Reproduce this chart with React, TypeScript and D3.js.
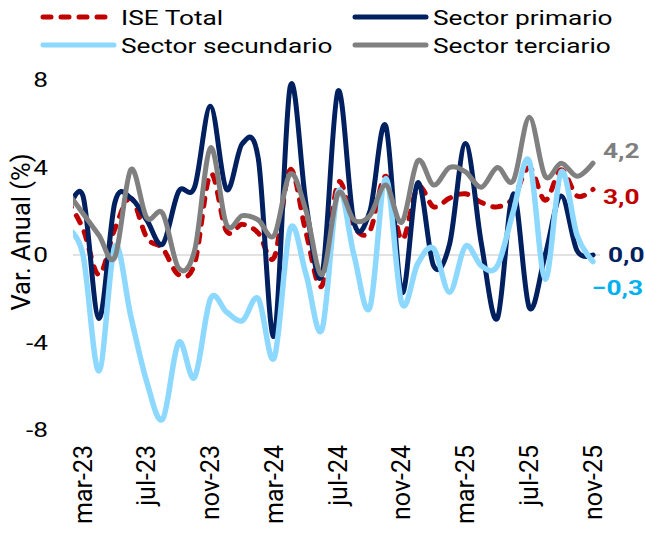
import React from "react";
import * as d3 from "d3";

const months = ["feb-23","mar-23","abr-23","may-23","jun-23","jul-23","ago-23","sep-23","oct-23","nov-23","dic-23","ene-24","feb-24","mar-24","abr-24","may-24","jun-24","jul-24","ago-24","sep-24","oct-24","nov-24","dic-24","ene-25","feb-25","mar-25","abr-25","may-25","jun-25","jul-25","ago-25","sep-25","oct-25","nov-25"];
const tickLabels = ["mar-23","jul-23","nov-23","mar-24","jul-24","nov-24","mar-25","jul-25","nov-25"];
const yTicks = [-8, -4, 0, 4, 8];

const iseTotal = [2.5, 1.2, -0.9, 1.2, 2.6, 0.8, 0.3, -0.9, -0.4, 3.7, 1.1, 1.4, 1.0, -0.1, 3.9, 1.0, -1.4, 3.3, 1.3, 1.1, 3.6, 0.7, 3.1, 2.2, 2.6, 2.8, 2.4, 2.2, 2.6, 4.0, 2.5, 3.9, 2.7, 3.0];
const primario = [1.8, 2.7, -2.9, 2.4, 2.6, 1.6, 0.5, 2.9, 3.1, 6.8, 3.0, 5.1, 4.4, -3.7, 7.7, 2.3, -0.9, 7.5, 1.5, 2.0, 5.9, -1.7, 3.3, -0.5, 0.5, 5.1, 0.5, -2.9, 2.8, -2.4, 0.0, 2.7, 0.2, 0.0];
const secundario = [1.2, 0.0, -5.3, 0.4, -2.8, -5.8, -7.5, -4.0, -5.6, -2.0, -2.6, -3.0, -2.0, -4.7, 1.2, -0.9, -3.4, 2.9, 0.0, -2.4, 3.5, -2.2, -0.4, 0.3, -1.7, 0.4, -0.5, -0.5, 2.0, 4.3, -1.1, 3.8, 0.9, -0.3];
const terciario = [2.9, 1.9, 0.9, -0.1, 3.9, 1.7, 1.9, -0.6, 0.2, 4.9, 1.4, 1.8, 1.6, 0.9, 3.7, 2.0, -0.9, 2.8, 1.6, 1.8, 3.2, 1.5, 4.3, 3.2, 4.0, 3.8, 3.1, 4.0, 3.4, 6.3, 3.6, 4.2, 3.6, 4.2];

const seriesNames = ["ISE Total", "Sector primario", "Sector secundario", "Sector terciario"];
const seriesColors = ["#C00000", "#002060", "#8DD8FF", "#808080"];
const labelColors = ["#C00000", "#002060", "#00B0F0", "#7F7F7F"];

const SX = 1.25;
const FONT = "Roboto, 'Noto Sans', sans-serif";

export default function App() {
  const x = d3.scaleLinear().domain([1, 33]).range([83, 593]);
  const y = d3.scaleLinear().domain([-8, 8]).range([430, 80]);
  const line = d3
    .line<number>()
    .x((_, i) => x(i))
    .y((d) => y(d))
    .curve(d3.curveCardinal.tension(0));

  const data = [iseTotal, primario, secundario, terciario];

  const endLabels = [
    { s: 0, x: 603, y: 197 },
    { s: 1, x: 608, y: 255 },
    { s: 2, x: 592, y: 288 },
    { s: 3, x: 603, y: 151 },
  ];

  const legend = [
    { s: 0, lx: 43, ly: 17 },
    { s: 1, lx: 355, ly: 17 },
    { s: 2, lx: 43, ly: 45 },
    { s: 3, lx: 355, ly: 45 },
  ];

  return (
    <svg
      width={645}
      height={537}
      style={{ position: "absolute", left: 0, top: 0, background: "#fff" }}
      fontFamily={FONT}
    >
      <defs>
        <clipPath id="plotClip">
          <rect x={73} y={0} width={560} height={537} />
        </clipPath>
      </defs>

      {/* zero gridline */}
      <line x1={73} x2={600} y1={y(0)} y2={y(0)} stroke="#D9D9D9" strokeWidth={1.5} />

      {/* y tick labels */}
      {yTicks.map((t) => (
        <text
          key={t}
          transform={`translate(48,${y(t)}) scale(${SX},1)`}
          textAnchor="end"
          dominantBaseline="central"
          fontSize={21}
          fill="#000"
        >
          {t}
        </text>
      ))}

      {/* y axis title */}
      <text
        transform={`translate(21,232) rotate(-90)`}
        textAnchor="middle"
        dominantBaseline="central"
        fontSize={25.5}
        fill="#000"
      >
        Var. Anual (%)
      </text>

      {/* x tick labels */}
      {tickLabels.map((lab) => {
        const i = months.indexOf(lab);
        return (
          <text
            key={lab}
            transform={`translate(${x(i)},445) rotate(-90)`}
            textAnchor="end"
            dominantBaseline="central"
            fontSize={25}
            fill="#000"
          >
            {lab}
          </text>
        );
      })}

      {/* series */}
      <g clipPath="url(#plotClip)">
        {data.map((vals, s) => (
          <path
            key={s}
            d={line(vals) || ""}
            fill="none"
            stroke={seriesColors[s]}
            strokeWidth={s === 2 ? 5.5 : 5}
            strokeLinecap="round"
            strokeLinejoin="round"
            strokeDasharray={s === 0 ? "8 10" : undefined}
          />
        ))}
      </g>

      {/* end labels */}
      {endLabels.map((e) => {
        const vals = data[e.s];
        const v = vals[vals.length - 1];
        return (
          <text
            key={e.s}
            transform={`translate(${e.x},${e.y}) scale(${SX},1)`}
            dominantBaseline="central"
            fontSize={21}
            fontWeight="bold"
            fill={labelColors[e.s]}
          >
            {d3.format(".1f")(v).replace(".", ",").replace("-0,0", "0,0")}
          </text>
        );
      })}

      {/* legend */}
      {legend.map((l) => (
        <g key={l.s}>
          <line
            x1={l.lx}
            x2={l.lx + 71}
            y1={l.ly}
            y2={l.ly}
            stroke={seriesColors[l.s]}
            strokeWidth={5}
            strokeLinecap="round"
            strokeDasharray={l.s === 0 ? "8 10" : undefined}
          />
          <text
            transform={`translate(${l.lx + 78},${l.ly + 7.5}) scale(${SX},1)`}
            fontSize={21}
            fill="#000"
          >
            {seriesNames[l.s]}
          </text>
        </g>
      ))}
    </svg>
  );
}
